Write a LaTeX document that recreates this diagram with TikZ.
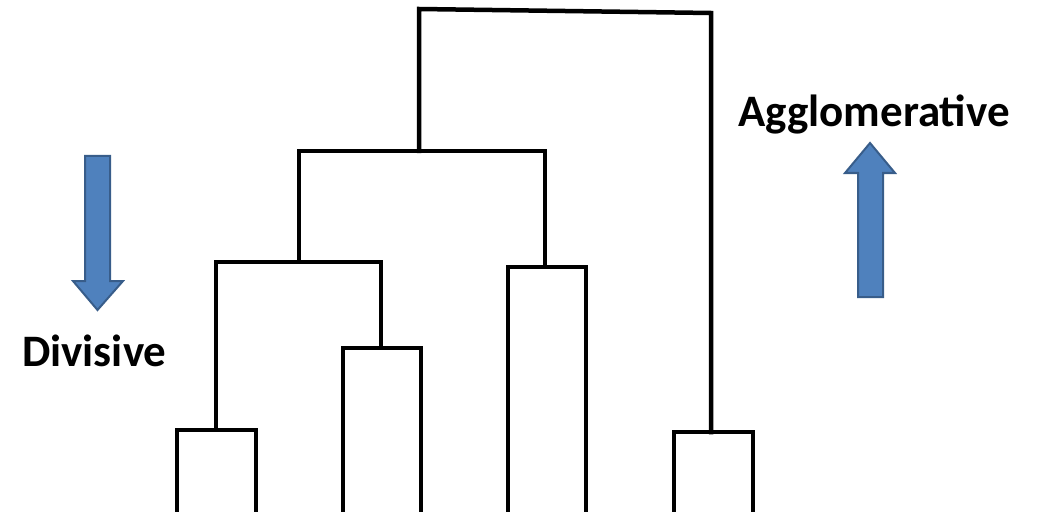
\documentclass[tikz,border=0pt]{standalone}
\usepackage{fontspec}
\setmainfont{Carlito}
\definecolor{arrowfill}{HTML}{4F81BD}
\definecolor{arrowedge}{HTML}{385D8A}
\begin{document}
\begin{tikzpicture}[x=1pt,y=-1pt,
  link/.style={line width=4.5pt,black,line cap=rect},
  bigarrow/.style={fill=arrowfill,draw=arrowedge,line width=2pt,line join=miter},
  label/.style={font=\fontsize{45}{50}\selectfont\bfseries,inner sep=0pt,anchor=base west}]
\useasboundingbox (0,0) rectangle (1040,513);
% top merge
\coordinate (t1) at (419,9);
\coordinate (t2) at (711,13);
\coordinate (a) at (419,151);
\coordinate (ar) at (711,432);
% second level
\coordinate (b1) at (299,151);
\coordinate (b2) at (545,151);
\coordinate (bl) at (299,262);
\coordinate (br) at (545,267);
% left cluster
\coordinate (c1) at (216,262);
\coordinate (c2) at (381,262);
\coordinate (cl) at (216,430);
\coordinate (cr) at (381,348);
% leaf boxes
\coordinate (d1) at (177,430); \coordinate (d2) at (256,430);
\coordinate (d1b) at (177,510); \coordinate (d2b) at (256,510);
\coordinate (e1) at (343,348); \coordinate (e2) at (421,348);
\coordinate (e1b) at (343,510); \coordinate (e2b) at (421,510);
\coordinate (f1) at (508,267); \coordinate (f2) at (586,267);
\coordinate (f1b) at (508,510); \coordinate (f2b) at (586,510);
\coordinate (g1) at (674,432); \coordinate (g2) at (753,432);
\coordinate (g1b) at (674,510); \coordinate (g2b) at (753,510);

\draw[link] (a) -- (t1) -- (t2) -- (ar);
\draw[link] (bl) -- (b1) -- (b2) -- (br);
\draw[link] (cl) -- (c1) -- (c2) -- (cr);
\draw[link] (d1b) -- (d1) -- (d2) -- (d2b);
\draw[link] (e1b) -- (e1) -- (e2) -- (e2b);
\draw[link] (f1b) -- (f1) -- (f2) -- (f2b);
\draw[link] (g1b) -- (g1) -- (g2) -- (g2b);

% down arrow (Divisive)
\draw[bigarrow] (85,156) -- (110,156) -- (110,281) -- (123,281) -- (97.5,310)
  -- (73,281) -- (85,281) -- cycle;
% up arrow (Agglomerative)
\draw[bigarrow] (858,297) -- (883,297) -- (883,173) -- (895,173) -- (870,143)
  -- (845,173) -- (858,173) -- cycle;

\node[label] (div) at (22,366) {Divisive};
\node[label] (agg) at (738,127) {Agglomerative};
\end{tikzpicture}
\end{document}
